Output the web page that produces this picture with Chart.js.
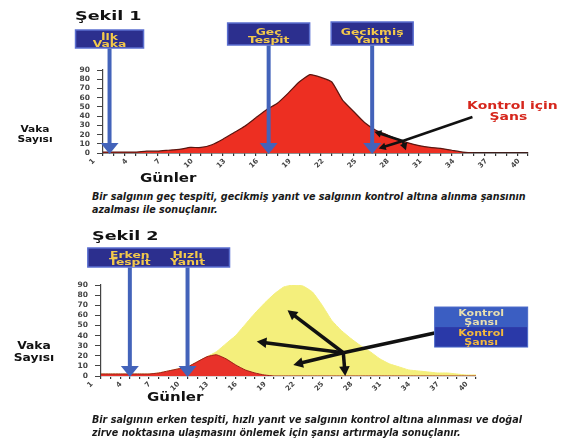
<!DOCTYPE html>
<html lang="tr">
<head>
<meta charset="utf-8">
<title>Şekil 1 - Şekil 2</title>
<script src="https://cdn.jsdelivr.net/npm/chart.js@4.4.1/dist/chart.umd.min.js"></script>
<style>
  body { margin: 0; background: #fff; }
  #page { position: relative; width: 561px; height: 441px; overflow: hidden; background: #fff; font-family: 'DejaVu Sans', sans-serif; color: #111; }
  #page canvas { position: absolute; left: 0; }
  .txt { position: absolute; font-weight: bold; white-space: nowrap; }
  .head { font-size: 13px; transform: scaleX(1.35); transform-origin: 0 50%; }
  .vaka { width: 80px; text-align: center; transform: scaleX(1.12); }
  .gun { font-size: 12px; transform: scaleX(1.25); transform-origin: 0 50%; }
  .note { font-size: 9.6px; font-style: italic; line-height: 13px; color: #1a1a1a; }
</style>
</head>
<body>
<div id="page">
  <canvas id="fig1" width="561" height="175" style="top:0"></canvas>
  <canvas id="fig2" width="561" height="175" style="top:220px"></canvas>

  <div class="txt head" style="left:75px;top:8px">Şekil 1</div>
  <div class="txt vaka" style="left:-5px;top:124px;font-size:9.5px;line-height:10px">Vaka<br>Sayısı</div>
  <div class="txt gun" style="left:140px;top:171px">Günler</div>
  <div class="txt note" style="left:92px;top:190px">Bir salgının geç tespiti, gecikmiş yanıt ve salgının kontrol altına alınma şansının<br>azalması ile sonuçlanır.</div>

  <div class="txt head" style="left:92px;top:228px">Şekil 2</div>
  <div class="txt vaka" style="left:-6px;top:340px;font-size:11px;line-height:12px">Vaka<br>Sayısı</div>
  <div class="txt gun" style="left:147px;top:390px">Günler</div>
  <div class="txt note" style="left:92px;top:413px">Bir salgının erken tespiti, hızlı yanıt ve salgının kontrol altına alınması ve doğal<br>zirve noktasına ulaşmasını önlemek için şansı artırmayla sonuçlanır.</div>
</div>

<script>
// days on the x axis
const days = ['1', '2', '3', '4', '5', '6', '7', '8', '9', '10',
              '11', '12', '13', '14', '15', '16', '17', '18', '19', '20',
              '21', '22', '23', '24', '25', '26', '27', '28', '29', '30',
              '31', '32', '33', '34', '35', '36', '37', '38', '39', '40'];
const yTicks = [0, 10, 20, 30, 40, 50, 60, 70, 80, 90];

// Şekil 1: late detection
const lateCases = [1, 1, 1, 1, 2, 2, 3, 4, 6, 6,
                   9, 15, 22, 29, 38, 47, 54, 65, 77, 85,
                   82, 77, 57, 45, 33, 25, 20, 15, 11, 8,
                   6, 5, 3, 1, 0, 0, 0, 0, 0, 0];

// Şekil 2: early detection (red) and the natural course (yellow)
const earlyCases = [2, 2, 2, 2, 2, 2, 3, 5, 7, 9,
                    14, 19, 21, 17, 11, 6, 3, 1, 0, 0,
                    0, 0, 0, 0, 0, 0, 0, 0, 0, 0,
                    0, 0, 0, 0, 0, 0, 0, 0, 0, 0];
const naturalCases = [2, 2, 2, 2, 2, 2, 3, 5, 7, 9,
                      14, 19, 24, 32, 40, 51, 62, 72, 81, 88,
                      90, 89, 83, 70, 55, 45, 37, 30, 24, 17,
                      12, 9, 6, 5, 4, 3, 3, 2, 1, 1];

// blue markers (day) and their labels
const fig1MarkerDays = [1.6, 16.2, 25.7];
const fig1MarkerLabels = [['İlk', 'Vaka'], ['Geç', 'Tespit'], ['Gecikmiş', 'Yanıt']];
const fig2MarkerDays = [4, 10];
const fig2MarkerLabels = [['Erken', 'Tespit'], ['Hızlı', 'Yanıt']];

// black "chance" pointers: [day, cases]
const fig1ChanceHub = [28.5, 13];
const fig1ChanceTail = [34.9, 39];
const fig1ChanceTips = [[25.9, 23], [26.3, 5], [28.8, 3]];
const fig2ChanceHub = [26.2, 23];
const fig2ChanceTail = [35.7, 42.5];
const fig2ChanceTips = [[20.4, 65], [17.2, 34], [21, 11], [26.4, 0]];

function stretched(ctx, text, x, y, sx) {
    ctx.save();
    ctx.translate(x, y);
    ctx.scale(sx, 1);
    ctx.fillText(text, 0, 0);
    ctx.restore();
}

function arrow(ctx, x1, y1, x2, y2, size) {
    const a = Math.atan2(y2 - y1, x2 - x1);
    ctx.beginPath();
    ctx.moveTo(x1, y1);
    ctx.lineTo(x2 - Math.cos(a) * size * 0.6, y2 - Math.sin(a) * size * 0.6);
    ctx.stroke();
    ctx.beginPath();
    ctx.moveTo(x2, y2);
    ctx.lineTo(x2 - size * Math.cos(a - 0.5), y2 - size * Math.sin(a - 0.5));
    ctx.lineTo(x2 - size * Math.cos(a + 0.5), y2 - size * Math.sin(a + 0.5));
    ctx.closePath();
    ctx.fill();
}

// draws the boxes, blue arrows and black pointers on top of the chart
function makeNotes(cfg) {
    return {
        id: 'notes',
        afterDraw(chart) {
            const ctx = chart.ctx;
            const px = d => chart.scales.x.getPixelForValue(d - 1);
            const py = v => chart.scales.y.getPixelForValue(v);
            const base = py(0);
            ctx.save();

            cfg.boxes.forEach(b => {
                const l = px(cfg.days[b.from]) - b.ext;
                const r = px(cfg.days[b.to]) + b.ext;
                ctx.fillStyle = '#2c2f8e';
                ctx.fillRect(l, b.top, r - l, b.height);
                ctx.strokeStyle = '#5b6fd0';
                ctx.lineWidth = 1.5;
                ctx.strokeRect(l, b.top, r - l, b.height);

                for (let i = b.from; i <= b.to; i++) {
                    const mx = px(cfg.days[i]);
                    ctx.fillStyle = '#f3c94b';
                    ctx.font = 'bold 9.5px "DejaVu Sans"';
                    ctx.textAlign = 'center';
                    cfg.labels[i].forEach((t, k) => {
                        stretched(ctx, t, mx, b.top + b.height * cfg.lineAt[k], 1.3);
                    });
                    ctx.strokeStyle = '#4363ba';
                    ctx.fillStyle = '#4363ba';
                    ctx.lineWidth = 4;
                    ctx.beginPath();
                    ctx.moveTo(mx, b.top + b.height + 0.5);
                    ctx.lineTo(mx, base - 9);
                    ctx.stroke();
                    ctx.beginPath();
                    ctx.moveTo(mx - 9, base - 10);
                    ctx.lineTo(mx + 9, base - 10);
                    ctx.lineTo(mx, base + 1);
                    ctx.closePath();
                    ctx.fill();
                }
            });

            const hx = px(cfg.hub[0]), hy = py(cfg.hub[1]);
            const tx = px(cfg.tail[0]), ty = py(cfg.tail[1]);
            ctx.strokeStyle = '#111';
            ctx.fillStyle = '#111';
            ctx.lineWidth = cfg.lineWidth;
            ctx.beginPath();
            ctx.moveTo(tx, ty);
            ctx.lineTo(hx, hy);
            ctx.stroke();
            cfg.tips.forEach(([d, v]) => arrow(ctx, hx, hy, px(d), py(v), cfg.head));

            if (cfg.chanceText) {
                ctx.fillStyle = '#d6261c';
                ctx.font = 'bold 10.5px "DejaVu Sans"';
                ctx.textAlign = 'center';
                stretched(ctx, 'Kontrol için', tx + 40, ty - 8, 1.33);
                stretched(ctx, 'Şans', tx + 36, ty + 3, 1.33);
            } else {
                const w = 93, h = 40, top = ty - 26;
                ctx.fillStyle = '#3b5ec2';
                ctx.fillRect(tx, top, w, h / 2);
                ctx.fillStyle = '#2a39a8';
                ctx.fillRect(tx, top + h / 2, w, h / 2);
                ctx.strokeStyle = '#4a68c8';
                ctx.lineWidth = 1;
                ctx.strokeRect(tx, top, w, h);
                ctx.font = 'bold 8.5px "DejaVu Sans"';
                ctx.textAlign = 'center';
                ctx.fillStyle = '#e8dfb0';
                stretched(ctx, 'Kontrol', tx + w / 2, top + 9, 1.3);
                stretched(ctx, 'Şansı', tx + w / 2, top + 18, 1.3);
                ctx.fillStyle = '#f2b93e';
                stretched(ctx, 'Kontrol', tx + w / 2, top + 29, 1.3);
                stretched(ctx, 'Şansı', tx + w / 2, top + 38, 1.3);
            }
            ctx.restore();
        }
    };
}

function buildChart(id, datasets, padding, xBorder, notes) {
    return new Chart(document.getElementById(id), {
        type: 'line',
        data: { labels: days, datasets },
        options: {
            responsive: false,
            animation: false,
            layout: { padding },
            elements: { point: { radius: 0 }, line: { tension: 0.15 } },
            plugins: { legend: { display: false }, tooltip: { enabled: false } },
            scales: {
                x: {
                    offset: false,
                    grid: { drawOnChartArea: false, tickLength: 3, color: '#333', lineWidth: 1.2 },
                    border: xBorder,
                    ticks: {
                        autoSkip: false,
                        minRotation: 45,
                        maxRotation: 45,
                        padding: 1,
                        labelOffset: -9,
                        color: '#444',
                        font: { family: 'DejaVu Sans', size: 7, weight: 'bold' },
                        callback: (v, i) => (i % 3 === 0 ? days[i] : '')
                    },
                    afterFit: s => { s.height = 18; }
                },
                y: {
                    min: 0,
                    max: 90,
                    afterBuildTicks: s => { s.ticks = yTicks.map(v => ({ value: v })); },
                    grid: { drawOnChartArea: false, tickLength: 6, color: '#444' },
                    border: { color: '#444', width: 1.2 },
                    ticks: {
                        autoSkip: false,
                        padding: 7,
                        color: '#444',
                        font: { family: 'DejaVu Sans', size: 7.5, weight: 'bold' }
                    },
                    afterFit: s => { s.width = 26; }
                }
            }
        },
        plugins: [makeNotes(notes)]
    });
}

buildChart('fig1', [{
    data: lateCases,
    fill: 'origin',
    backgroundColor: '#ed2f22',
    borderColor: '#5b1610',
    borderWidth: 1.2
}], { left: 77, right: 33, top: 70, bottom: 4 }, { color: '#222', width: 1.5 }, {
    days: fig1MarkerDays,
    labels: fig1MarkerLabels,
    lineAt: [0.55, 0.92],
    boxes: [
        { from: 0, to: 0, ext: 34, top: 30, height: 18 },
        { from: 1, to: 1, ext: 41, top: 23, height: 22 },
        { from: 2, to: 2, ext: 41, top: 22, height: 23 }
    ],
    hub: fig1ChanceHub,
    tail: fig1ChanceTail,
    tips: fig1ChanceTips,
    lineWidth: 2.5,
    head: 8,
    chanceText: true
});

buildChart('fig2', [{
    data: earlyCases,
    fill: 'origin',
    backgroundColor: '#e8322a',
    borderColor: '#9a1e16',
    borderWidth: 1
}, {
    data: naturalCases,
    fill: 'origin',
    backgroundColor: '#f4ef7c',
    borderColor: '#f4ef7c',
    borderWidth: 1
}], { left: 75, right: 85, top: 65, bottom: 1 }, { color: '#d8d8d8', width: 1 }, {
    days: fig2MarkerDays,
    labels: fig2MarkerLabels,
    lineAt: [0.5, 0.9],
    boxes: [{ from: 0, to: 1, ext: 42, top: 28, height: 19 }],
    hub: fig2ChanceHub,
    tail: fig2ChanceTail,
    tips: fig2ChanceTips,
    lineWidth: 3.5,
    head: 11,
    chanceText: false
});
</script>
</body>
</html>
